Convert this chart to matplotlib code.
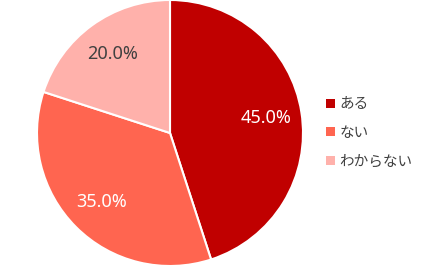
import matplotlib.pyplot as plt
from matplotlib.patches import Patch

plt.rcParams['font.family'] = ['Noto Sans CJK JP', 'DejaVu Sans']

labels = ['ある', 'ない', 'わからない']
values = [45.0, 35.0, 20.0]
colors = ['#C00000', '#FF6550', '#FFB1AB']
pct_colors = ['white', 'white', '#404040']

fig = plt.figure(figsize=(4.43, 2.66), dpi=100)
ax = fig.add_axes([37 / 443, 0.0, 266 / 443, 1.0])

wedges, texts, autotexts = ax.pie(
    values, colors=colors, startangle=90, counterclock=False,
    autopct='%.1f%%', pctdistance=0.73, radius=1.0,
    wedgeprops=dict(edgecolor='white', linewidth=1.5),
)
for t, c in zip(autotexts, pct_colors):
    t.set_color(c)
    t.set_fontsize(13)
    t.set_family(['Noto Sans', 'DejaVu Sans'])
ax.set_xlim(-1.0, 1.0)
ax.set_ylim(-1.0, 1.0)
ax.set_aspect('equal')

handles = [Patch(facecolor=c, edgecolor='none') for c in colors]
fig.legend(handles, labels, loc='center left', bbox_to_anchor=(313 / 443, 0.5),
           frameon=False, fontsize=10.5, handlelength=0.6, handleheight=0.6,
           handletextpad=0.3, labelspacing=1.0, labelcolor='#404040')

fig.savefig('out.png', dpi=100)
